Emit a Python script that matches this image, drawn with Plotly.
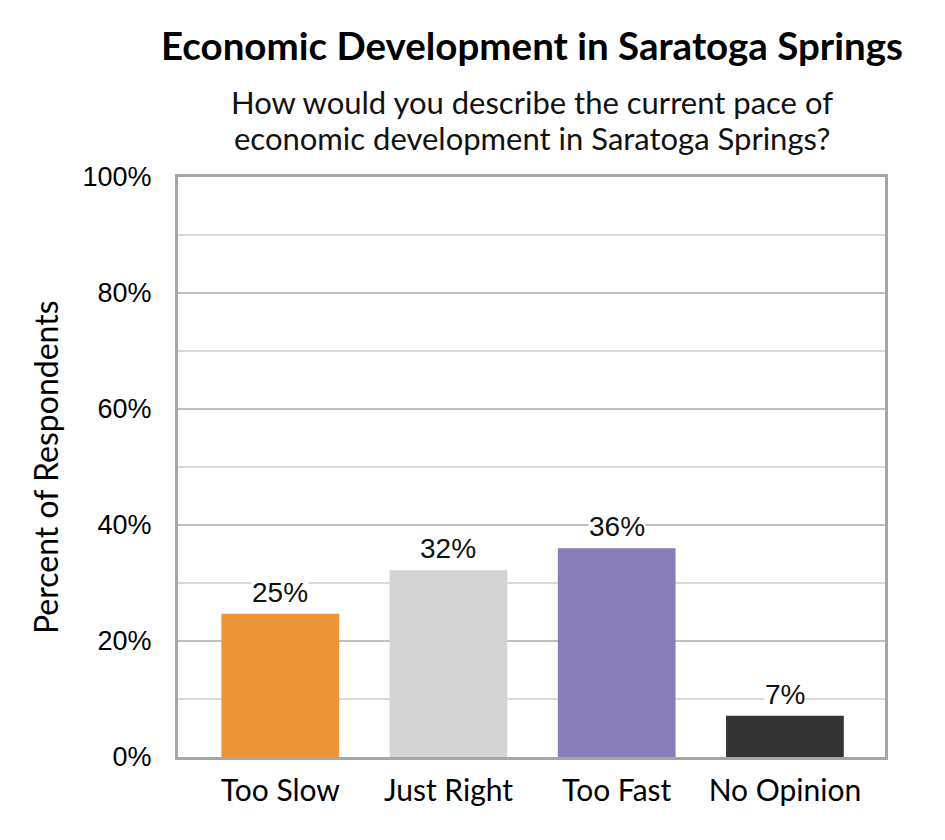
import plotly.graph_objects as go

categories = ["Too Slow", "Just Right", "Too Fast", "No Opinion"]
values = [24.7, 32.2, 36.0, 7.1]
labels = ["25%", "32%", "36%", "7%"]
colors = ["#ED9436", "#D4D4D4", "#8A7CB6", "#333333"]

title = "Economic Development in Saratoga Springs"
subtitle_lines = ["How would you describe the current pace of",
                  "economic development in Saratoga Springs?"]

fig = go.Figure(go.Bar(x=categories, y=values, marker=dict(color=colors, line=dict(width=0)),
                       width=0.70, hoverinfo="skip"))

for c, v, t in zip(categories, values, labels):
    fig.add_annotation(x=c, y=v, text=t, showarrow=False, yanchor="bottom", yshift=5,
                       bgcolor="white", borderpad=0,
                       font=dict(family="Liberation Sans, Arial", size=28, color="#111111"))

fig.add_annotation(xref="paper", yref="paper", x=0.5, y=1, yshift=132, text="<b>" + title + "</b>",
                   showarrow=False, yanchor="middle",
                   font=dict(family="Lato", size=38.5, color="black"))
for line, shift in zip(subtitle_lines, [75, 39]):
    fig.add_annotation(xref="paper", yref="paper", x=0.5, y=1, yshift=shift, text=line,
                       showarrow=False, yanchor="middle",
                       font=dict(family="Lato", size=31, color="#111111"))
fig.add_annotation(xref="paper", yref="paper", x=0, y=0.5, xshift=-133, text="Percent of Respondents",
                   textangle=-90, showarrow=False, xanchor="center", yanchor="middle",
                   font=dict(family="Lato", size=32, color="black"))

fig.update_layout(
    width=945, height=840,
    margin=dict(l=170, r=68, t=169, b=91),
    paper_bgcolor="white", plot_bgcolor="white",
    showlegend=False,
    font=dict(family="Lato", color="black"),
)
fig.update_xaxes(range=[-0.608, 3.595], showline=True, linecolor="#A6A6A6", linewidth=3, mirror=True,
                 ticks="", ticklabelstandoff=5, tickfont=dict(family="Lato", size=30, color="black"))
fig.update_yaxes(range=[0, 100], dtick=20, ticksuffix="%",
                 showline=True, linecolor="#A6A6A6", linewidth=3, mirror=True,
                 showgrid=True, gridcolor="#C0C0C0", gridwidth=2,
                 minor=dict(dtick=10, showgrid=True, gridcolor="#D9D9D9", gridwidth=1.5),
                 zeroline=False, ticks="", ticklabelstandoff=18,
                 tickfont=dict(family="Liberation Sans, Arial", size=27, color="black"))

fig.write_html("out.html")
